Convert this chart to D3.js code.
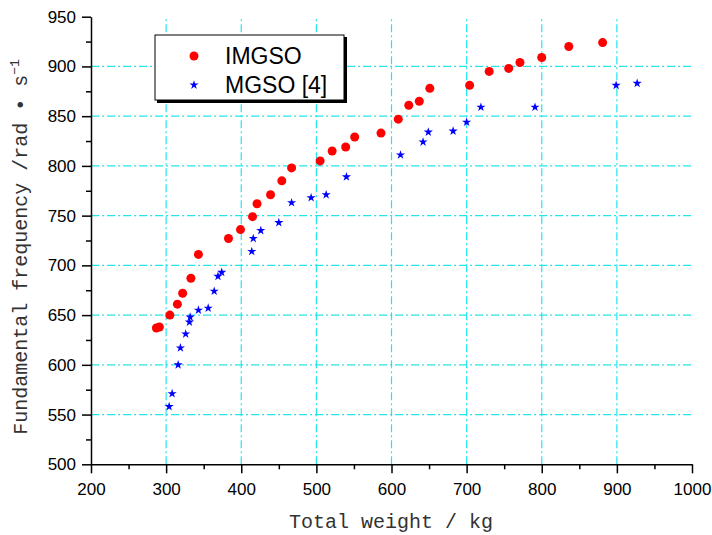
<!DOCTYPE html>
<html>
<head>
<meta charset="utf-8">
<script src="https://cdn.jsdelivr.net/npm/d3@7"></script>
<style>
  html, body { margin: 0; padding: 0; background: #fff; }
  svg { display: block; }
</style>
</head>
<body>
<svg id="chart" width="712" height="535"></svg>
<script>
// ---- data ----
const imgsoWeight = [287, 291, 305, 315, 322, 333, 343, 383, 399, 415, 421, 439, 454, 467, 505, 521, 539, 551, 586, 609, 623, 637, 651, 704, 730, 756, 771, 800, 836, 881];
const imgsoFreq   = [637, 638, 650, 661, 672, 687, 711, 727, 736, 749, 762, 771, 785, 798, 805, 815, 819, 829, 833, 847, 861, 865, 878, 881, 895, 898, 904, 909, 920, 924];
const mgsoWeight  = [304, 308, 316, 319, 326, 331, 332, 343, 356, 364, 369, 374, 414, 416, 426, 450, 467, 493, 513, 540, 612, 642, 649, 682, 700, 719, 791, 899, 927];
const mgsoFreq    = [558, 571, 600, 617, 631, 643, 648, 655, 657, 674, 689, 693, 714, 727, 735, 743, 763, 768, 771, 789, 811, 824, 834, 835, 844, 859, 859, 881, 883];
const seriesNames = ["IMGSO", "MGSO [4]"];
const xTicks = [200, 300, 400, 500, 600, 700, 800, 900, 1000];
const yTicks = [500, 550, 600, 650, 700, 750, 800, 850, 900, 950];
const xTitle = "Total weight / kg";
const yTitle = "Fundamental frequency /rad \u2022 s";

// ---- layout ----
const svg = d3.select("#chart");
const x = d3.scaleLinear().domain([200, 1000]).range([91, 692]);
const y = d3.scaleLinear().domain([500, 950]).range([464.3, 16.7]);
const gridColor = "#22e6ea";

// grid
const grid = svg.append("g");
grid.selectAll("line.v").data(xTicks.filter(d => d > 200 && d < 1000)).enter().append("line")
  .attr("x1", d => x(d)).attr("x2", d => x(d))
  .attr("y1", y(500)).attr("y2", y(950))
  .attr("stroke", gridColor).attr("stroke-width", 1.2)
  .attr("stroke-dasharray", "8,3,2,3");
grid.selectAll("line.h").data(yTicks.filter(d => d > 500 && d < 950)).enter().append("line")
  .attr("x1", x(200)).attr("x2", x(1000))
  .attr("y1", d => y(d)).attr("y2", d => y(d))
  .attr("stroke", gridColor).attr("stroke-width", 1.2)
  .attr("stroke-dasharray", "8,3,2,3");

// axes
const fontTick = "Arial, 'Liberation Sans', sans-serif";
const xMinor = d3.range(250, 1000, 100);
const yMinor = d3.range(525, 950, 50);

svg.append("g").attr("transform", `translate(0,${y(500)})`)
  .call(d3.axisBottom(x).tickValues(xTicks).tickSize(9).tickSizeOuter(0).tickPadding(10).tickFormat(d3.format("d")));
svg.append("g").attr("transform", `translate(0,${y(500)})`)
  .call(d3.axisBottom(x).tickValues(xMinor).tickSize(5).tickSizeOuter(0).tickFormat(""))
  .select(".domain").remove();
svg.append("g").attr("transform", `translate(${x(200)},0)`)
  .call(d3.axisLeft(y).tickValues(yTicks).tickSize(9).tickSizeOuter(0).tickPadding(6).tickFormat(d3.format("d")));
svg.append("g").attr("transform", `translate(${x(200)},0)`)
  .call(d3.axisLeft(y).tickValues(yMinor).tickSize(5).tickSizeOuter(0).tickFormat(""))
  .select(".domain").remove();

svg.selectAll(".domain, .tick line").attr("stroke", "#000").attr("stroke-width", 1.5);
svg.selectAll(".tick text").attr("font-family", fontTick).attr("font-size", 17).attr("fill", "#000");

// axis titles
const fontTitle = "'Liberation Mono', 'Courier New', monospace";
svg.append("text").attr("x", 391).attr("y", 528)
  .attr("text-anchor", "middle").attr("font-family", fontTitle).attr("font-size", 20).attr("fill", "#333")
  .text(xTitle);
const yt = svg.append("text").attr("transform", "translate(27,247) rotate(-90)")
  .attr("text-anchor", "middle").attr("font-family", fontTitle).attr("font-size", 20).attr("fill", "#333");
yt.append("tspan").text(yTitle);
yt.append("tspan").attr("dy", -8).attr("font-size", 13).text("\u22121");

// markers
const star = d3.symbol().type(d3.symbolStar).size(26);
const pts = svg.append("g");
pts.selectAll("circle").data(d3.range(imgsoWeight.length)).enter().append("circle")
  .attr("cx", i => x(imgsoWeight[i])).attr("cy", i => y(imgsoFreq[i]))
  .attr("r", 4.5).attr("fill", "#ff0000");
pts.selectAll("path").data(d3.range(mgsoWeight.length)).enter().append("path")
  .attr("d", star)
  .attr("transform", i => `translate(${x(mgsoWeight[i])},${y(mgsoFreq[i])})`)
  .attr("fill", "#0000ff");

// legend
const lg = svg.append("g");
lg.append("rect").attr("x", 157).attr("y", 37).attr("width", 190).attr("height", 66).attr("fill", "#000");
lg.append("rect").attr("x", 155).attr("y", 35).attr("width", 189).attr("height", 65)
  .attr("fill", "#fff").attr("stroke", "#000").attr("stroke-width", 1);
lg.append("circle").attr("cx", 194).attr("cy", 56).attr("r", 4.5).attr("fill", "#ff0000");
lg.append("path").attr("d", star).attr("transform", "translate(194,85)").attr("fill", "#0000ff");
lg.selectAll("text").data(seriesNames).enter().append("text")
  .attr("x", 225).attr("y", (d, i) => 64 + i * 29)
  .attr("font-family", fontTick).attr("font-size", 23).attr("fill", "#000")
  .text(d => d);
</script>
</body>
</html>
